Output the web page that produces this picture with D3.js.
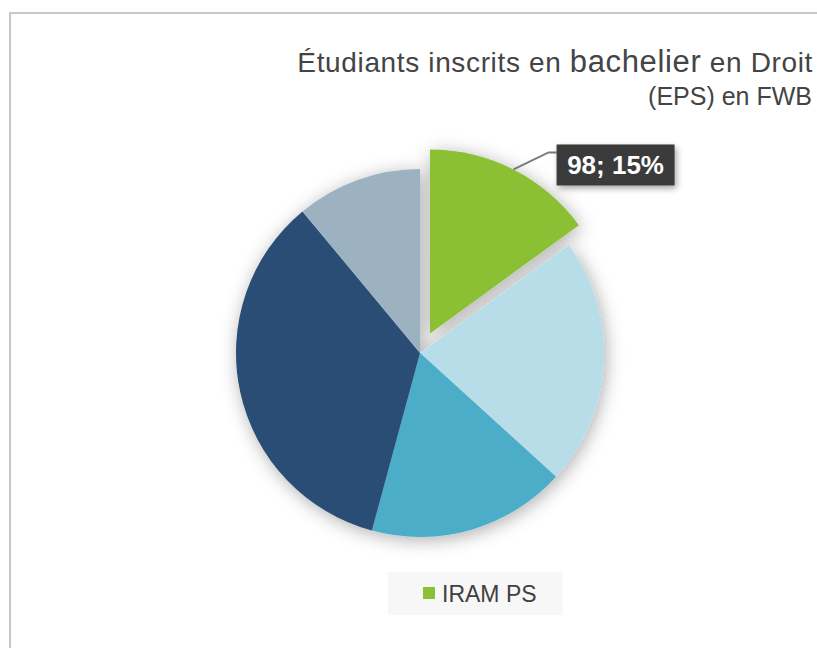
<!DOCTYPE html>
<html>
<head>
<meta charset="utf-8">
<script src="https://cdn.jsdelivr.net/npm/d3@7"></script>
<style>
  body { margin: 0; background: #fff; }
  text { font-family: "Liberation Sans", Arial, sans-serif; }
</style>
</head>
<body>
<div id="chart"></div>
<script>
// data (clockwise from 12 o'clock)
var categories = ["IRAM PS", "Autre 1", "Autre 2", "Autre 3", "Autre 4"];
var values = [98, 142, 114, 227, 72];
var colors = ["#8bc034", "#b7dde8", "#4badc8", "#2c4d75", "#9cb2c0"];
var legendItems = ["IRAM PS"];
var titleLines = ["Étudiants inscrits en bachelier en Droit", "(EPS) en FWB"];

var W = 817, H = 648;
var cx = 420, cy = 353, radius = 184, explode = 22;

var svg = d3.select("#chart").append("svg")
    .attr("width", W)
    .attr("height", H);

var defs = svg.append("defs");
var shadow = defs.append("filter").attr("id", "shadow")
    .attr("x", "-30%").attr("y", "-30%").attr("width", "160%").attr("height", "160%");
shadow.append("feDropShadow")
    .attr("dx", 2).attr("dy", 3).attr("stdDeviation", 9)
    .attr("flood-color", "#000").attr("flood-opacity", 0.32);

var boxShadow = defs.append("filter").attr("id", "boxShadow")
    .attr("x", "-20%").attr("y", "-30%").attr("width", "140%").attr("height", "160%");
boxShadow.append("feDropShadow")
    .attr("dx", 2).attr("dy", 3).attr("stdDeviation", 3)
    .attr("flood-color", "#000").attr("flood-opacity", 0.35);

// frame
svg.append("rect")
    .attr("x", 10).attr("y", 13)
    .attr("width", W).attr("height", H)
    .attr("fill", "none")
    .attr("stroke", "#c8c8c8")
    .attr("stroke-width", 2);

// title
var title = svg.append("text")
    .attr("text-anchor", "end")
    .attr("fill", "#444");
var line1 = title.append("tspan").attr("x", 813).attr("y", 72).attr("font-size", "28px");
line1.append("tspan").text("Étudiants inscrits en ");
line1.append("tspan").attr("font-size", "31px").text("bachelier");
line1.append("tspan").text(" en Droit");
title.append("tspan").attr("x", 812).attr("y", 105).attr("font-size", "25px").text(titleLines[1]);

// stretch first title line to the width seen in the picture
var l1 = line1.node().getComputedTextLength();
var ls = Math.max(0, (515 - l1) / (titleLines[0].length - 1));
line1.attr("letter-spacing", ls + "px");

// pie
var data = categories.map(function(c, i) { return { name: c, value: values[i], color: colors[i] }; });

var pie = d3.pie()
    .sort(null)
    .value(function(d) { return d.value; });

var arc = d3.arc()
    .innerRadius(0)
    .outerRadius(radius);

var arcs = pie(data);

var pieG = svg.append("g")
    .attr("transform", "translate(" + cx + "," + cy + ")")
    .attr("filter", "url(#shadow)");

function offset(d, i) {
    if (i !== 0) return [0, 0];
    var a = (d.startAngle + d.endAngle) / 2;
    return [Math.sin(a) * explode, -Math.cos(a) * explode];
}

pieG.selectAll(".slice")
    .data(arcs)
    .enter()
    .append("path")
    .attr("class", "slice")
    .attr("d", arc)
    .attr("fill", function(d) { return d.data.color; })
    .attr("transform", function(d, i) { return "translate(" + offset(d, i) + ")"; });

// label for the exploded slice
var first = arcs[0];
var off = offset(first, 0);
var mid = (first.startAngle + first.endAngle) / 2;
var p0 = [cx + off[0] + Math.sin(mid) * radius, cy + off[1] - Math.cos(mid) * radius];
var p1 = [p0[0] + 35, p0[1] - 17];
var p2 = [p1[0] + 8, p1[1]];

svg.append("polyline")
    .attr("points", [p0, p1, p2].map(function(p) { return p.join(","); }).join(" "))
    .attr("fill", "none")
    .attr("stroke", "#7a7a7a")
    .attr("stroke-width", 2);

var total = d3.sum(values);
var boxW = 118, boxH = 41;
var labelG = svg.append("g")
    .attr("transform", "translate(" + p2[0] + "," + (p2[1] - 8) + ")");
labelG.append("rect")
    .attr("width", boxW).attr("height", boxH)
    .attr("fill", "#3b3b3b")
    .attr("filter", "url(#boxShadow)");
labelG.append("text")
    .attr("x", boxW / 2).attr("y", 30)
    .attr("text-anchor", "middle")
    .attr("fill", "#fff")
    .attr("font-weight", "bold")
    .attr("font-size", "26px")
    .text(values[0] + "; " + Math.round(values[0] / total * 100) + "%");

// legend
var legend = svg.append("g").attr("transform", "translate(388,572)");
legend.append("rect")
    .attr("width", 175).attr("height", 43)
    .attr("fill", "#f7f7f7");
legend.selectAll(".key")
    .data(legendItems)
    .enter()
    .append("rect")
    .attr("x", 35).attr("y", 15)
    .attr("width", 12).attr("height", 12)
    .attr("fill", colors[0]);
legend.selectAll(".lbl")
    .data(legendItems)
    .enter()
    .append("text")
    .attr("x", 54).attr("y", 30)
    .attr("fill", "#404040")
    .attr("font-size", "23px")
    .text(function(d) { return d; });
</script>
</body>
</html>
